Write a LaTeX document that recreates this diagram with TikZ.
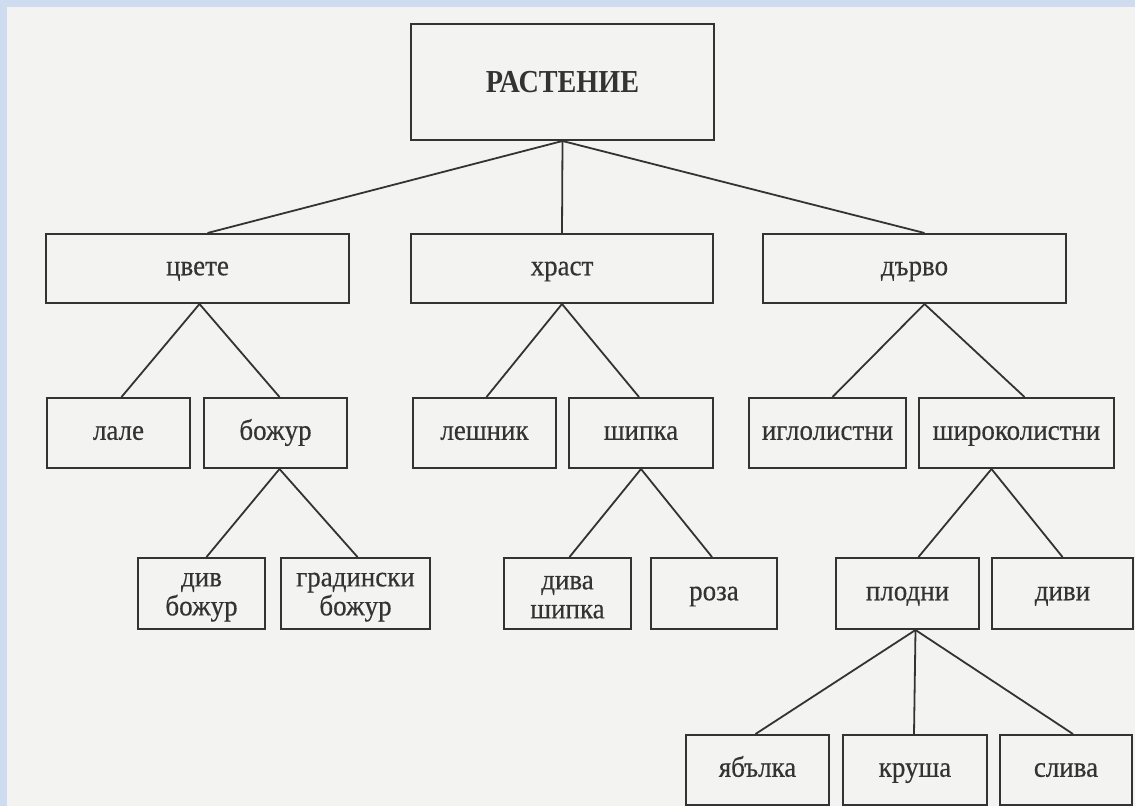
\documentclass[tikz,border=0pt]{standalone}
\usepackage{fontspec}
\setmainfont{Liberation Serif}[FakeStretch=0.93, FakeBold=0.4]
\newfontfamily\titlefont{Liberation Serif Bold}[FakeStretch=0.88]
\definecolor{paper}{HTML}{F3F3F2}
\definecolor{frameblue}{HTML}{CFDBEF}
\definecolor{ink}{HTML}{333333}
\newcommand{\firstline}{\rule{0pt}{21pt}}
\begin{document}
\begin{tikzpicture}[x=1pt,y=-1pt,
  box/.style={draw=ink, line width=2pt, rectangle, inner sep=0pt, text=ink,
    font=\fontsize{29}{29}\selectfont, align=center},
  onebox/.style={box, text height=20pt, text depth=6.5pt},
  link/.style={draw=ink, line width=1.8pt}]
\useasboundingbox (0,0) rectangle (1135,806);
\fill[paper] (0,0) rectangle (1135,806);
\fill[frameblue] (0,0) rectangle (1135,7);
\fill[frameblue] (0,0) rectangle (7,806);

% level 0
\node[box, minimum width=303pt, minimum height=116pt,
  font=\fontsize{32}{32}\titlefont] (root) at (562.5,82) {РАСТЕНИЕ};
% level 1
\node[onebox, minimum width=303pt, minimum height=69pt] (cvete) at (197.5,268.5) {цвете};
\node[onebox, minimum width=302pt, minimum height=69pt] (hrast) at (562,268.5) {храст};
\node[onebox, minimum width=303pt, minimum height=69pt] (darvo) at (914.5,268.5) {дърво};
% level 2
\node[onebox, minimum width=143pt, minimum height=70pt] (lale) at (118.5,433) {лале};
\node[onebox, minimum width=143pt, minimum height=70pt] (bozhur) at (275.5,433) {божур};
\node[onebox, minimum width=143pt, minimum height=70pt] (leshnik) at (484.5,433) {лешник};
\node[onebox, minimum width=144pt, minimum height=70pt] (shipka) at (641,433) {шипка};
\node[onebox, minimum width=157pt, minimum height=70pt] (iglo) at (827.5,433) {иглолистни};
\node[onebox, minimum width=195pt, minimum height=70pt] (shiroko) at (1016.5,433) {широколистни};
% level 3
\node[box, minimum width=127pt, minimum height=71pt] (divbozhur) at (201.5,593.5) {\firstline див\\божур};
\node[box, minimum width=149pt, minimum height=71pt] (gradinski) at (355.5,593.5) {\firstline градински\\божур};
\node[box, minimum width=127pt, minimum height=71pt] (divashipka) at (567.5,593.5) {\firstline дива\\шипка};
\node[onebox, minimum width=126pt, minimum height=71pt] (roza) at (714,593.5) {роза};
\node[onebox, minimum width=143pt, minimum height=71pt] (plodni) at (907.5,593.5) {плодни};
\node[onebox, minimum width=141pt, minimum height=71pt] (divi) at (1062.5,593.5) {диви};
% level 4
\node[onebox, minimum width=143pt, minimum height=70pt] (jabalka) at (757.5,770) {ябълка};
\node[onebox, minimum width=144pt, minimum height=70pt] (krusha) at (915,770) {круша};
\node[onebox, minimum width=132pt, minimum height=70pt] (sliva) at (1066,770) {слива};

% connectors
\draw[link] (root.south) -- ([xshift=10pt]cvete.north);
\draw[link] (root.south) -- (hrast.north);
\draw[link] (root.south) -- ([xshift=10pt]darvo.north);

\draw[link] ([xshift=2pt]cvete.south) -- ([xshift=3pt]lale.north);
\draw[link] ([xshift=2pt]cvete.south) -- ([xshift=4pt]bozhur.north);
\draw[link] (hrast.south) -- ([xshift=2pt]leshnik.north);
\draw[link] (hrast.south) -- ([xshift=-2pt]shipka.north);
\draw[link] ([xshift=10pt]darvo.south) -- ([xshift=5pt]iglo.north);
\draw[link] ([xshift=10pt]darvo.south) -- ([xshift=8pt]shiroko.north);

\draw[link] ([xshift=4pt]bozhur.south) -- ([xshift=5pt]divbozhur.north);
\draw[link] ([xshift=4pt]bozhur.south) -- ([xshift=2pt]gradinski.north);
\draw[link] (shipka.south) -- ([xshift=2pt]divashipka.north);
\draw[link] (shipka.south) -- ([xshift=-2pt]roza.north);
\draw[link] ([xshift=-25pt]shiroko.south) -- ([xshift=11pt]plodni.north);
\draw[link] ([xshift=-25pt]shiroko.south) -- (divi.north);

\draw[link] ([xshift=8pt]plodni.south) -- ([xshift=-2pt]jabalka.north);
\draw[link] ([xshift=8pt]plodni.south) -- ([xshift=-1pt]krusha.north);
\draw[link] ([xshift=8pt]plodni.south) -- ([xshift=7pt]sliva.north);
\end{tikzpicture}
\end{document}
